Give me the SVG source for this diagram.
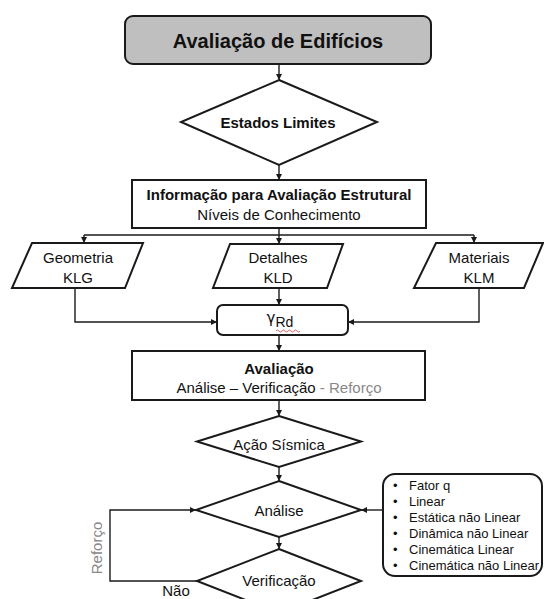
<svg xmlns="http://www.w3.org/2000/svg" width="544" height="599" viewBox="0 0 544 599">
<defs>
<marker id="ah" viewBox="0 0 10 10" refX="10" refY="5" markerWidth="6" markerHeight="6" markerUnits="userSpaceOnUse" orient="auto">
<path d="M0,0 L10,5 L0,10 z" fill="#1a1a1a"/>
</marker>
</defs>
<style>
.s{fill:#fff;stroke:#1a1a1a;stroke-width:2}
.c{fill:none;stroke:#1a1a1a;stroke-width:1.4}
.a{marker-end:url(#ah)}
text{font-family:"Liberation Sans",Arial,sans-serif;fill:#111;text-anchor:middle}
.b{font-weight:bold}
.g{fill:#888}
.l{text-anchor:start}
</style>
<rect width="544" height="599" fill="#fff"/>
<g id="connectors">
<path class="c a" d="M279,64 V80"/>
<path class="c a" d="M279,165 V180"/>
<path class="c a" d="M279,228 V244"/>
<path class="c" d="M84,235 H474"/>
<path class="c a" d="M84,235 V243"/>
<path class="c a" d="M474,235 V243"/>
<path class="c a" d="M75,288 V322 H217"/>
<path class="c a" d="M479,288 V322 H348"/>
<path class="c a" d="M279,288 V305"/>
<path class="c a" d="M279,335 V351"/>
<path class="c a" d="M279,400 V416"/>
<path class="c a" d="M279,467 V481"/>
<path class="c a" d="M279,537 V549"/>
<path class="c a" d="M383,510 H361"/>
<path class="c a" d="M197,581 H110 V510 H196"/>
</g>
<g id="title">
<rect x="125" y="16" width="306" height="48" rx="8" fill="#bfbfbf" stroke="#1a1a1a" stroke-width="2"/>
<text class="b" x="278" y="48" font-size="20">Avaliação de Edifícios</text>
</g>
<g id="estados">
<polygon class="s" points="279,80 377,122 279,165 181,122"/>
<text class="b" x="278" y="128" font-size="15">Estados Limites</text>
</g>
<g id="info">
<rect class="s" x="132" y="180" width="294" height="48"/>
<text class="b" x="279" y="200" font-size="15">Informação para Avaliação Estrutural</text>
<text x="279" y="220" font-size="15">Níveis de Conhecimento</text>
</g>
<g id="geometria">
<polygon class="s" points="32,243 143,243 125,288 12,288"/>
<text x="78" y="263" font-size="15">Geometria</text>
<text x="78" y="283" font-size="15">KLG</text>
</g>
<g id="detalhes">
<polygon class="s" points="230,244 343,244 327,288 213,288"/>
<text x="278" y="263" font-size="15">Detalhes</text>
<text x="278" y="283" font-size="15">KLD</text>
</g>
<g id="materiais">
<polygon class="s" points="436,243 543,243 524,288 414,288"/>
<text x="479" y="263" font-size="15">Materiais</text>
<text x="479" y="283" font-size="15">KLM</text>
</g>
<g id="gammaRd">
<rect class="s" x="217" y="305" width="131" height="30" rx="6"/>
<text x="280" y="323" font-size="15"><tspan font-family="'DejaVu Sans',sans-serif" font-size="15">γ</tspan><tspan dy="4" font-size="14">Rd</tspan></text>
<path d="M276,331 q1.5,-2 3,0 t3,0 t3,0 t3,0 t3,0 t3,0 t3,0 t3,0" fill="none" stroke="#d04040" stroke-width="0.8"/>
</g>
<g id="avaliacao">
<rect class="s" x="132" y="351" width="293" height="49"/>
<text class="b" x="279" y="374" font-size="15">Avaliação</text>
<text x="279" y="393" font-size="15">Análise – Verificação <tspan class="g">- Reforço</tspan></text>
</g>
<g id="acao">
<polygon class="s" points="279,416 361,441.5 279,467 197,441.5"/>
<text x="279" y="450" font-size="15">Ação Sísmica</text>
</g>
<g id="analise">
<polygon class="s" points="279,481 361,510 279,537 196,510"/>
<text x="279" y="516" font-size="15">Análise</text>
</g>
<g id="verificacao">
<polygon class="s" points="279,549 361,581 279,613 197,581"/>
<text x="279" y="586" font-size="15">Verificação</text>
</g>
<g id="metodos">
<rect class="s" x="383" y="474" width="159" height="102" rx="12"/>
<g font-size="13">
<text class="l" x="393" y="490">•</text><text class="l" x="409" y="490">Fator q</text>
<text class="l" x="393" y="506">•</text><text class="l" x="409" y="506">Linear</text>
<text class="l" x="393" y="522">•</text><text class="l" x="409" y="522">Estática não Linear</text>
<text class="l" x="393" y="538">•</text><text class="l" x="409" y="538">Dinâmica não Linear</text>
<text class="l" x="393" y="554">•</text><text class="l" x="409" y="554">Cinemática Linear</text>
<text class="l" x="393" y="570">•</text><text class="l" x="409" y="570">Cinemática não Linear</text>
</g>
</g>
<g id="labels">
<text x="176" y="596" font-size="15">Não</text>
<text class="g" x="0" y="0" font-size="15" transform="translate(102,548) rotate(-90)">Reforço</text>
</g>
</svg>
